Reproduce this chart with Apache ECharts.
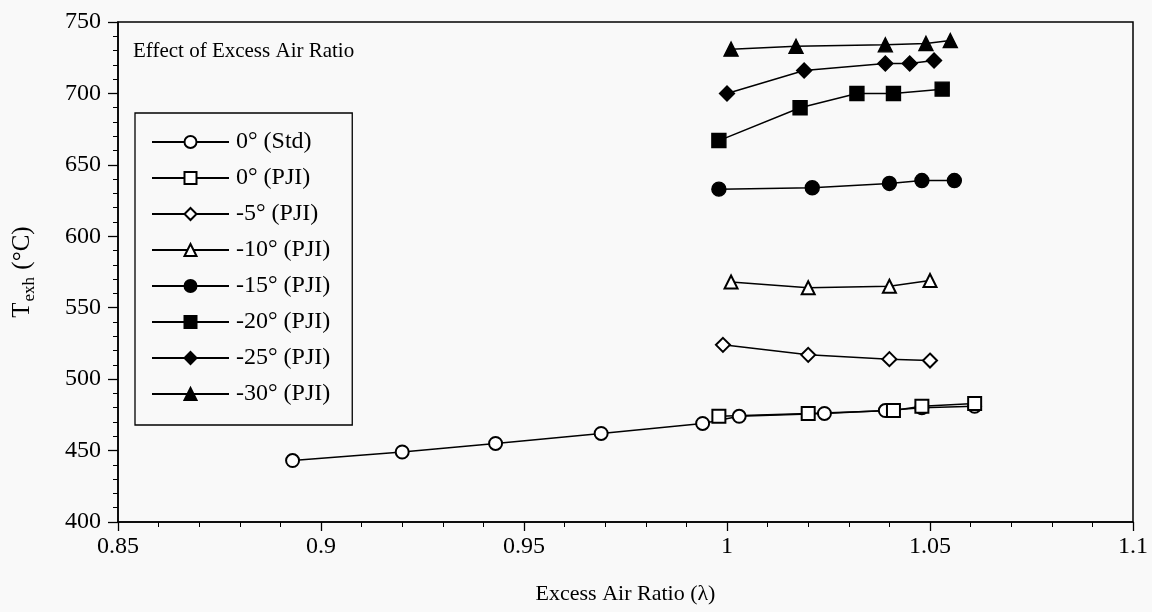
<!DOCTYPE html>
<html>
<head>
<meta charset="utf-8">
<script src="https://cdn.jsdelivr.net/npm/echarts@6/dist/echarts.min.js"></script>
<style>
  html, body { margin: 0; padding: 0; background: #f9f9f9; }
  #chart { width: 1152px; height: 612px; }
</style>
</head>
<body>
<div id="chart"></div>
<script>
// Exhaust temperature vs excess air ratio, standard injection and PJI at several timings
const FONT = '"Liberation Serif", "DejaVu Serif", serif';

const seriesNames = ['0° (Std)', '0° (PJI)', '-5° (PJI)', '-10° (PJI)', '-15° (PJI)', '-20° (PJI)', '-25° (PJI)', '-30° (PJI)'];

const lambdaStd = [0.893, 0.920, 0.943, 0.969, 0.994, 1.003, 1.024, 1.039, 1.048, 1.061];
const texhStd   = [443, 449, 455, 462, 469, 474, 476, 478, 480, 481];

const lambdaPJI0 = [0.998, 1.020, 1.041, 1.048, 1.061];
const texhPJI0   = [474, 476, 478, 481, 483];

const lambdaPJIm5 = [0.999, 1.020, 1.040, 1.050];
const texhPJIm5   = [524, 517, 514, 513];

const lambdaPJIm10 = [1.001, 1.020, 1.040, 1.050];
const texhPJIm10   = [568, 564, 565, 569];

const lambdaPJIm15 = [0.998, 1.021, 1.040, 1.048, 1.056];
const texhPJIm15   = [633, 634, 637, 639, 639];

const lambdaPJIm20 = [0.998, 1.018, 1.032, 1.041, 1.053];
const texhPJIm20   = [667, 690, 700, 700, 703];

const lambdaPJIm25 = [1.000, 1.019, 1.039, 1.045, 1.051];
const texhPJIm25   = [700, 716, 721, 721, 723];

const lambdaPJIm30 = [1.001, 1.017, 1.039, 1.049, 1.055];
const texhPJIm30   = [731, 733, 734, 735, 737];

const xTicks = [0.85, 0.9, 0.95, 1, 1.05, 1.1];
const yTicks = [400, 450, 500, 550, 600, 650, 700, 750];

const zip = (xs, ys) => xs.map((x, i) => [x, ys[i]]);

const seriesData = [
  zip(lambdaStd, texhStd),
  zip(lambdaPJI0, texhPJI0),
  zip(lambdaPJIm5, texhPJIm5),
  zip(lambdaPJIm10, texhPJIm10),
  zip(lambdaPJIm15, texhPJIm15),
  zip(lambdaPJIm20, texhPJIm20),
  zip(lambdaPJIm25, texhPJIm25),
  zip(lambdaPJIm30, texhPJIm30)
];

const symbols = ['emptyCircle', 'emptyRect', 'emptyDiamond', 'emptyTriangle', 'circle', 'rect', 'diamond', 'triangle'];
const sizes = [13, 13, 14, 13, 14, 14, 15, 14];

const chart = echarts.init(document.getElementById('chart'), null, { renderer: 'canvas' });

const option = {
  backgroundColor: '#f9f9f9',
  animation: false,
  title: {
    text: 'Effect of Excess Air Ratio',
    left: 128,
    top: 36,
    textStyle: { fontFamily: FONT, fontSize: 21, fontWeight: 'normal', color: '#000' }
  },
  legend: {
    orient: 'vertical',
    left: 135,
    top: 113,
    data: seriesNames,
    itemWidth: 77,
    itemHeight: 15,
    itemGap: 12,
    padding: [17, 22, 19, 16],
    borderColor: '#000',
    borderWidth: 1.3,
    textStyle: { fontFamily: FONT, fontSize: 24, color: '#000', lineHeight: 22, padding: [0, 0, 0, 2] }
  },
  grid: {
    left: 118,
    right: 19,
    top: 22,
    bottom: 90,
    show: true,
    borderColor: '#000',
    borderWidth: 1.5,
    backgroundColor: 'transparent'
  },
  xAxis: {
    type: 'value',
    min: 0.85,
    max: 1.1,
    interval: 0.05,
    name: 'Excess Air Ratio (λ)',
    nameLocation: 'middle',
    nameGap: 61,
    nameTextStyle: { fontFamily: FONT, fontSize: 22, color: '#000' },
    axisLine: { show: true, lineStyle: { color: '#000', width: 1.5 } },
    axisTick: { show: true, inside: false, length: 9, lineStyle: { color: '#000', width: 1.3 } },
    minorTick: { show: true, splitNumber: 5, length: 5, lineStyle: { color: '#000', width: 1 } },
    splitLine: { show: false },
    axisLabel: {
      margin: 13,
      fontFamily: FONT,
      fontSize: 24,
      color: '#000',
      formatter: v => {
        const t = xTicks.find(k => Math.abs(k - v) < 1e-6);
        return t === undefined ? '' : String(t);
      }
    }
  },
  yAxis: {
    type: 'value',
    min: 400,
    max: 750,
    interval: 50,
    name: 'T{sub|exh} (°C)',
    nameLocation: 'middle',
    nameGap: 80,
    nameRotate: 90,
    nameTextStyle: {
      fontFamily: FONT,
      fontSize: 25,
      color: '#000',
      rich: {
        sub: { fontFamily: FONT, fontSize: 17, color: '#000', padding: [14, 1, 0, 1] }
      }
    },
    axisLine: { show: true, lineStyle: { color: '#000', width: 1.5 } },
    axisTick: { show: true, inside: false, length: 10, lineStyle: { color: '#000', width: 1.3 } },
    minorTick: { show: true, splitNumber: 5, length: 5, lineStyle: { color: '#000', width: 1 } },
    splitLine: { show: false },
    axisLabel: {
      margin: 17,
      fontFamily: FONT,
      fontSize: 24,
      color: '#000',
      formatter: v => {
        const t = yTicks.find(k => Math.abs(k - v) < 1e-6);
        return t === undefined ? '' : String(t);
      }
    }
  },
  series: seriesNames.map((name, i) => ({
    name,
    type: 'line',
    data: seriesData[i],
    symbol: symbols[i],
    symbolSize: sizes[i],
    showAllSymbol: true,
    color: '#000',
    lineStyle: { color: '#000', width: 1.5 },
    itemStyle: { color: '#000', borderColor: '#000', borderWidth: 1.4 },
    emphasis: { disabled: true }
  }))
};

chart.setOption(option);
</script>
</body>
</html>
